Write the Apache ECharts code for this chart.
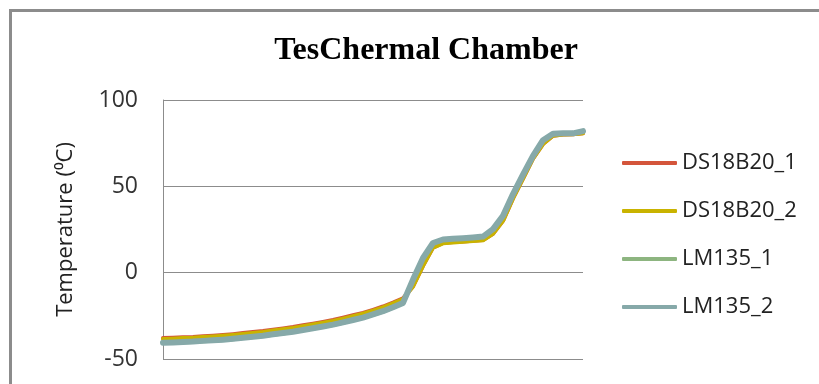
<!DOCTYPE html>
<html>
<head>
  <meta charset="utf-8">
  <title>TesChermal Chamber</title>
  <script src="https://cdn.jsdelivr.net/npm/echarts@6/dist/echarts.min.js"></script>
  <style>
    html, body { margin: 0; padding: 0; background: #fff; overflow: hidden; }
    #frame { position: absolute; left: 9px; top: 9px; width: 900px; height: 500px; border: 3px solid #8c8c8c; }
    #chart { position: absolute; left: 0; top: 0; width: 819px; height: 384px; }
  </style>
</head>
<body>
<div id="frame"></div>
<div id="chart"></div>
<script>
// sample index (no x labels in the original)
var samples = [];
for (var i = 0; i < 43; i++) samples.push(i);

var ds1 = [-37.9,-37.7,-37.4,-37.2,-36.8,-36.5,-36.1,-35.6,-35.0,-34.4,-33.8,-33.0,-32.3,-31.5,-30.5,-29.5,-28.5,-27.4,-26.1,-24.7,-23.3,-21.5,-19.6,-17.3,-14.8,
           -8.0,4.0,14.5,17.2,17.7,18.1,18.5,18.9,22.5,30.0,43.0,54.5,66.0,74.5,79.3,80.0,80.2,80.8];
var ds2 = [-38.4,-38.2,-37.9,-37.7,-37.3,-37.0,-36.6,-36.1,-35.5,-34.9,-34.3,-33.5,-32.8,-32.0,-31.0,-30.0,-29.0,-27.9,-26.6,-25.2,-23.8,-22.0,-20.1,-17.8,-15.3,
           -8.0,4.0,14.5,17.0,17.5,17.9,18.3,18.7,22.5,30.0,43.0,54.5,66.0,74.5,79.3,80.0,80.2,80.8];
var lm1 = [-40.8,-40.6,-40.3,-40.1,-39.7,-39.4,-39.0,-38.5,-37.9,-37.3,-36.7,-35.9,-35.2,-34.4,-33.4,-32.4,-31.4,-30.3,-29.0,-27.6,-26.2,-24.4,-22.5,-20.2,-17.7,
           -4.2,8.3,17.0,19.1,19.6,19.9,20.3,20.8,25.0,33.0,45.3,56.6,67.4,76.5,80.3,80.6,80.6,81.8];
var lm2 = [-40.6,-40.4,-40.1,-39.9,-39.5,-39.2,-38.8,-38.3,-37.7,-37.1,-36.5,-35.7,-35.0,-34.2,-33.2,-32.2,-31.2,-30.1,-28.8,-27.4,-26.0,-24.2,-22.3,-20.0,-17.5,
           -4.0,8.5,17.2,19.2,19.7,20.0,20.4,20.9,25.2,33.0,45.5,56.8,67.6,76.7,80.5,80.7,80.7,82.0];

var seriesNames = ['DS18B20_1', 'DS18B20_2', 'LM135_1', 'LM135_2'];
var seriesData = [ds1, ds2, lm1, lm2];
var colors = ['#d4553b', '#c9b300', '#8db580', '#86a9a9'];
var widths = [4, 4, 4, 6];

var yTicks = [-50, 0, 50, 100];

var myChart = echarts.init(document.getElementById('chart'), null, { renderer: 'canvas' });

var option = {
    backgroundColor: 'transparent',
    animation: false,
    color: colors,
    title: {
        text: 'TesChermal Chamber',
        left: 421,
        textAlign: 'center',
        top: 30,
        textStyle: {
            fontFamily: 'Liberation Serif',
            fontWeight: 'bold',
            fontSize: 32,
            color: '#000'
        }
    },
    legend: {
        orient: 'vertical',
        left: 617,
        top: 146,
        itemWidth: 55,
        itemHeight: 4,
        itemGap: 24,
        icon: 'roundRect',
        data: seriesNames,
        textStyle: {
            fontFamily: 'Open Sans',
            fontSize: 22,
            lineHeight: 24,
            color: '#222'
        }
    },
    grid: {
        left: 163,
        right: 236,
        top: 100,
        bottom: 25
    },
    xAxis: {
        type: 'category',
        data: samples,
        boundaryGap: false,
        axisLine: { show: false },
        axisTick: { show: false },
        axisLabel: { show: false },
        splitLine: { show: false }
    },
    yAxis: {
        type: 'value',
        min: yTicks[0],
        max: yTicks[yTicks.length - 1],
        interval: 50,
        name: 'Temperature (\u2070C)',
        nameLocation: 'middle',
        nameRotate: 90,
        nameGap: 86,
        nameTextStyle: {
            fontFamily: 'Open Sans',
            fontSize: 22,
            color: '#222'
        },
        axisLine: { show: true, lineStyle: { color: '#8c8c8c', width: 1 } },
        axisTick: { show: false },
        axisLabel: {
            margin: 25,
            fontFamily: 'Open Sans',
            fontSize: 23,
            color: '#333'
        },
        splitLine: { lineStyle: { color: '#8c8c8c', width: 1 } }
    },
    series: seriesNames.map(function (n, k) {
        return {
            name: n,
            type: 'line',
            data: seriesData[k],
            showSymbol: false,
            symbol: 'none',
            lineStyle: { width: widths[k], color: colors[k], cap: 'round', join: 'round' }
        };
    })
};

myChart.setOption(option);
</script>
</body>
</html>
